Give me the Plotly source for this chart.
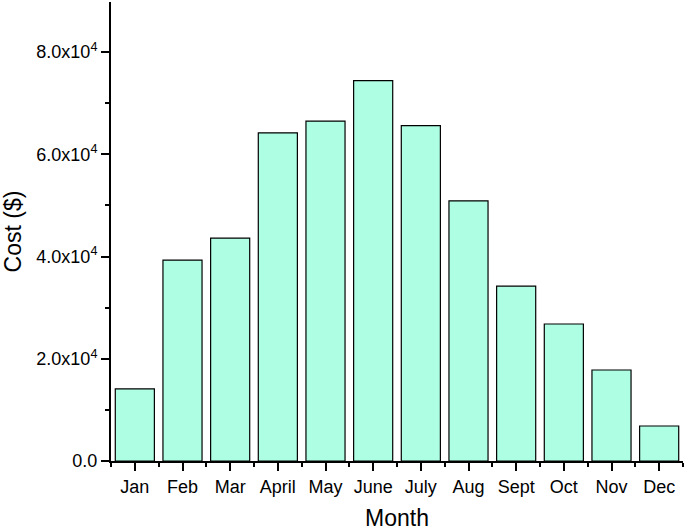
import plotly.graph_objects as go

months = ["Jan", "Feb", "Mar", "April", "May", "June", "July", "Aug", "Sept", "Oct", "Nov", "Dec"]
cost = [14100, 39300, 43600, 64200, 66500, 74400, 65600, 50900, 34200, 26800, 17800, 6850]
ytick_vals = [0, 20000, 40000, 60000, 80000]
ytick_text = ["0.0", "2.0x10<sup>4</sup>", "4.0x10<sup>4</sup>", "6.0x10<sup>4</sup>", "8.0x10<sup>4</sup>"]

pos = list(range(len(months)))

fig = go.Figure(go.Bar(
    x=pos, y=cost,
    marker=dict(color="#AEFEE3", line=dict(color="black", width=1.2)),
    width=0.82,
))

font = "Liberation Sans, Arial, sans-serif"
fig.update_layout(
    width=685, height=531,
    margin=dict(l=111, r=2, t=2, b=70, autoexpand=False),
    plot_bgcolor="white", paper_bgcolor="white",
    font=dict(family=font, size=18, color="black"),
    showlegend=False,
)
fig.update_xaxes(
    range=[-0.5, 11.5],
    tickvals=pos, ticktext=months,
    showline=True, linecolor="black", linewidth=2,
    ticks="outside", ticklen=8, tickwidth=1.5, tickcolor="black",
    minor=dict(ticks="outside", ticklen=4, tickwidth=1.5, tickcolor="black", tick0=0.5, dtick=1),
    showgrid=False, zeroline=False,
    title=dict(text="Month", font=dict(size=23), standoff=16),
    tickfont=dict(size=18),
    automargin=False,
)
fig.update_yaxes(
    range=[0, 89800],
    tickvals=ytick_vals, ticktext=ytick_text,
    showline=True, linecolor="black", linewidth=2,
    ticks="outside", ticklen=8, tickwidth=1.5, tickcolor="black",
    minor=dict(ticks="outside", ticklen=4, tickwidth=1.5, tickcolor="black", tick0=10000, dtick=20000),
    showgrid=False, zeroline=False,
    title=dict(text="Cost ($)", font=dict(size=23), standoff=8),
    tickfont=dict(size=18),
    automargin=False,
)

fig.write_html("out.html", config={"displayModeBar": False},
               post_script="document.body.style.margin='0';")
